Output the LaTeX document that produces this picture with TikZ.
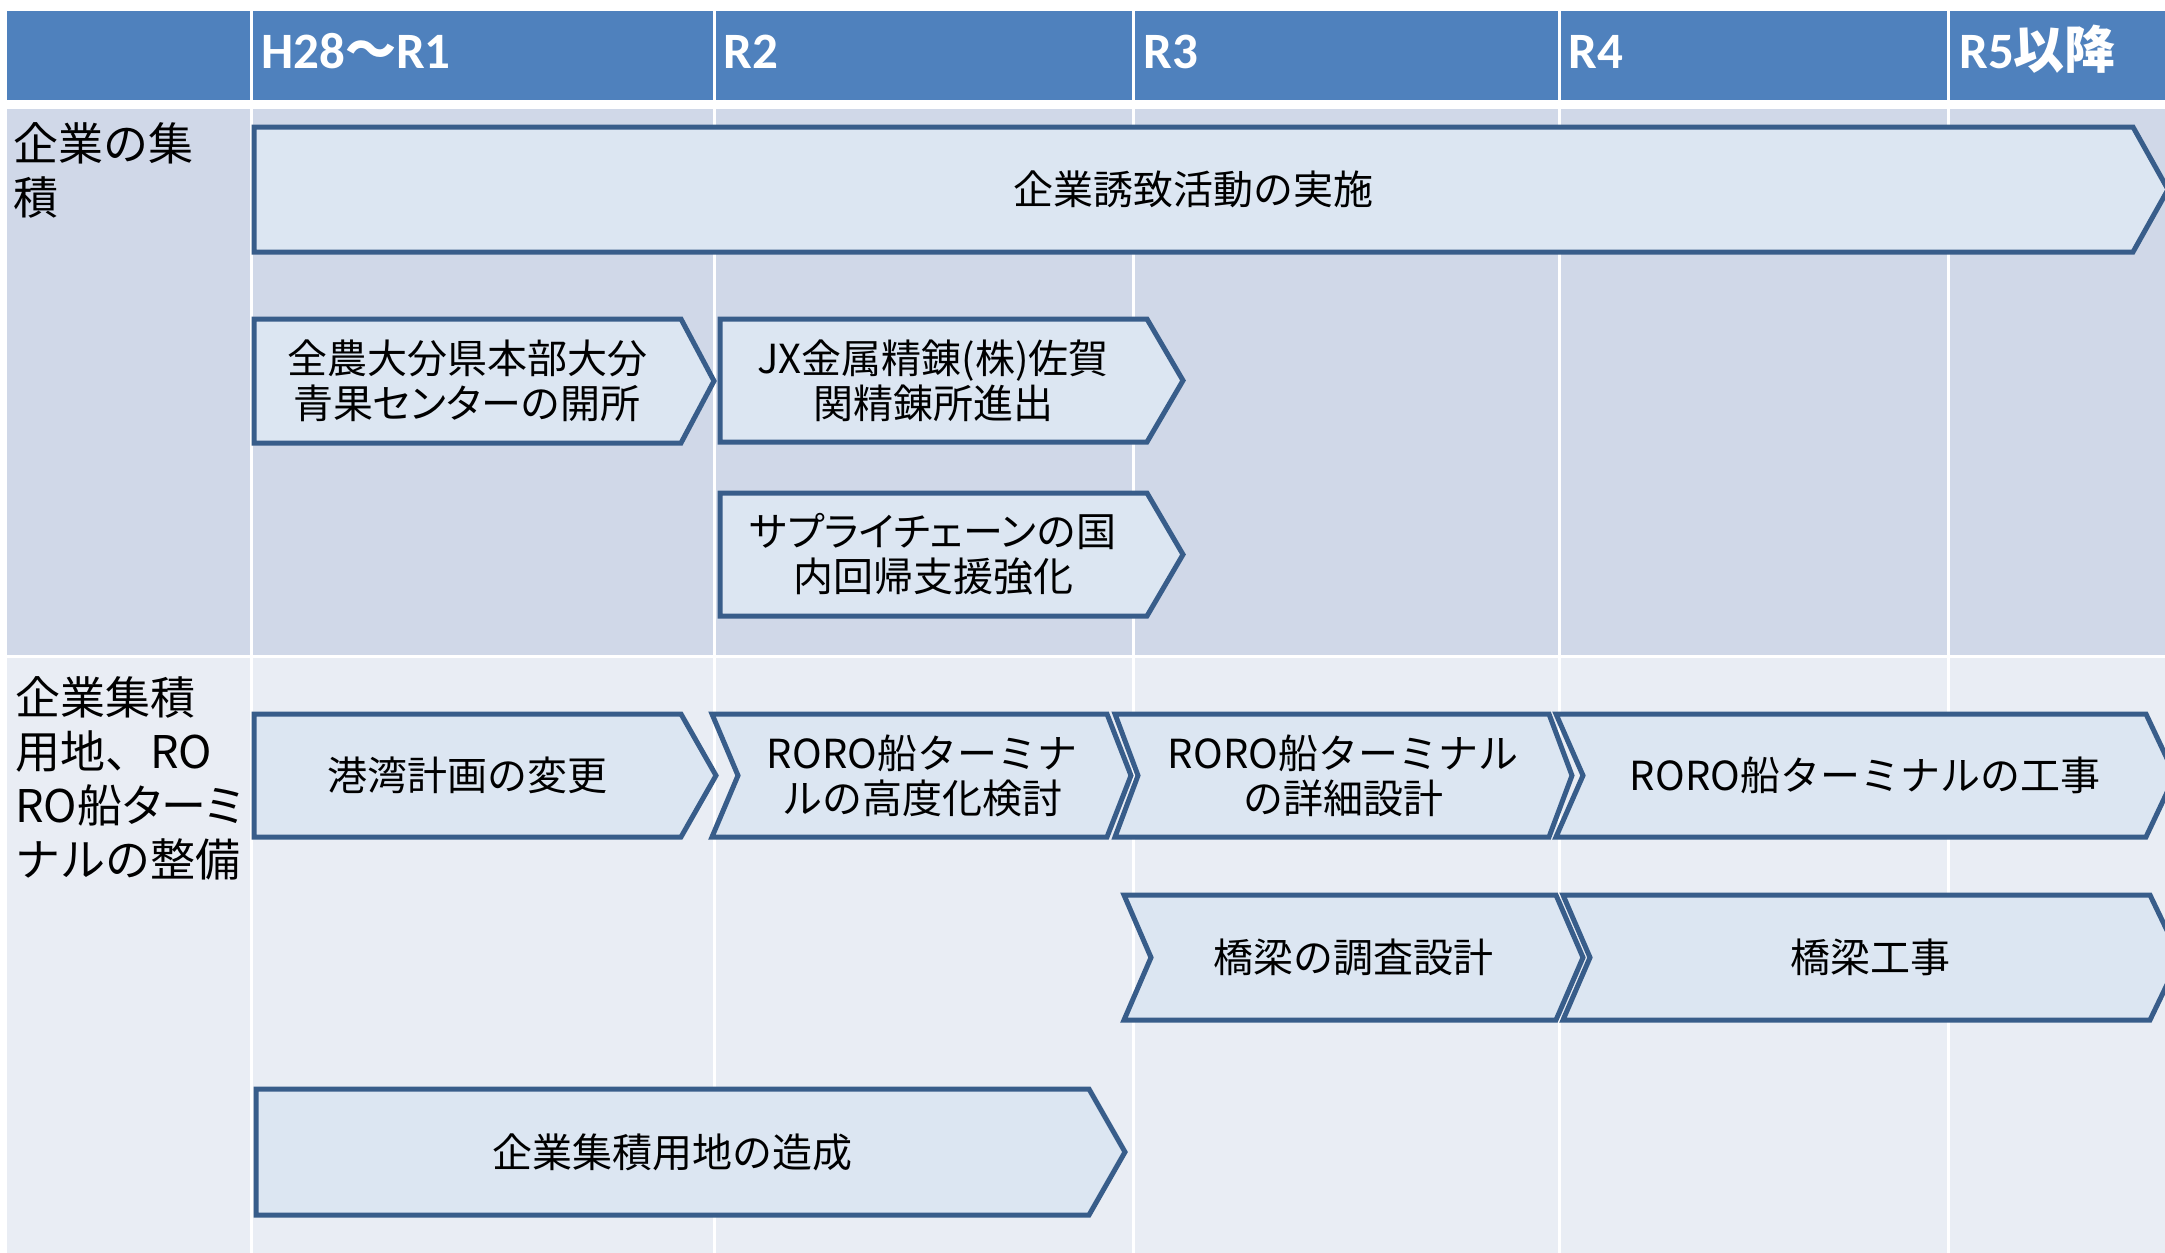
\documentclass[tikz,border=0pt]{standalone}
\usepackage{fontspec}
\setmainfont{Noto Sans CJK JP}
\newfontfamily\kanap{Noto Sans CJK JP}[RawFeature=+palt]
\newfontfamily\hdlat{Carlito}
\definecolor{hdr}{HTML}{4F81BD}
\definecolor{rowa}{HTML}{D0D8E8}
\definecolor{rowb}{HTML}{E9EDF4}
\definecolor{chfill}{HTML}{DCE6F2}
\definecolor{chline}{HTML}{385D8A}
\begin{document}
\begin{tikzpicture}[x=0.5pt,y=-0.5pt,
  chev/.style={draw=chline, fill=chfill, line width=2.5pt, line join=miter},
  lbl/.style={inner sep=0pt, align=center, font=\fontsize{20}{22.5}\selectfont},
  hd/.style={inner sep=0pt, anchor=base west, text=white, font=\fontsize{25.5}{30}\selectfont\bfseries},
  side/.style={inner sep=0pt, anchor=north west, align=left, font=\fontsize{22.5}{27}\selectfont},
  sep/.style={white, line width=1.5pt}]
\useasboundingbox (0,0) rectangle (2165,1253);
\clip (0,0) rectangle (2165,1253);
\fill[white] (0,0) rectangle (2165,1253);
% table cells
\fill[hdr] (7,11) rectangle (2165,100);
\fill[rowa] (7,109) rectangle (2165,655);
\fill[rowb] (7,658) rectangle (2165,1253);
\foreach \x in {251,714,1133,1559,1948} \draw[sep] (\x,11) -- (\x,1253);
% header
\node[hd] (h1) at (261,68) {{\hdlat H28}～{\hdlat R1}};
\node[hd] (h2) at (723,68) {{\hdlat R2}};
\node[hd] (h3) at (1143,68) {{\hdlat R3}};
\node[hd] (h4) at (1568,68) {{\hdlat R4}};
\node[hd] (h5) at (1959,68) {{\hdlat R5}以降};
% row labels
\node[side] (r1) at (13,122) {企業の集\\積};
\node[side] (r2) at (15,676) {企業集積\\用地、RO\\RO船{\kanap ターミ}\\ナルの整備};
% chevrons
\draw[chev] (254,127) -- (2133,127) -- (2168,189.5) -- (2133,252) -- (254,252) -- cycle;
\draw[chev] (254,319) -- (681,319) -- (714,381) -- (681,443) -- (254,443) -- cycle;
\draw[chev] (720,319) -- (1147,319) -- (1183,380.5) -- (1147,442) -- (720,442) -- cycle;
\draw[chev] (720,493) -- (1147,493) -- (1183,554.5) -- (1147,616) -- (720,616) -- cycle;
\draw[chev] (254,714) -- (681,714) -- (716,775.5) -- (681,837) -- (254,837) -- cycle;
\draw[chev] (712,714) -- (1107,714) -- (1131,775.5) -- (1107,837) -- (712,837) -- (738,775.5) -- cycle;
\draw[chev] (1115,714) -- (1549,714) -- (1572,775.5) -- (1549,837) -- (1115,837) -- (1138,775.5) -- cycle;
\draw[chev] (1556,714) -- (2146,714) -- (2175,775.5) -- (2146,837) -- (1556,837) -- (1583,775.5) -- cycle;
\draw[chev] (1124,895) -- (1556,895) -- (1583,957.5) -- (1556,1020) -- (1124,1020) -- (1151,957.5) -- cycle;
\draw[chev] (1563,895) -- (2150,895) -- (2180,957.5) -- (2150,1020) -- (1563,1020) -- (1590,957.5) -- cycle;
\draw[chev] (256,1089) -- (1089,1089) -- (1125,1152) -- (1089,1215) -- (256,1215) -- cycle;
% texts
\node[lbl] (t1) at (1193,189.5) {企業誘致活動の実施};
\node[lbl] (t2) at (467,381) {全農大分県本部大分\\青果{\kanap センター}の開所};
\node[lbl] (t3) at (933,380.5) {JX金属精錬(株)佐賀\\関精錬所進出};
\node[lbl] (t4) at (933,554.5) {{\kanap サプライチェーン}の国\\内回帰支援強化};
\node[lbl] (t5) at (467,775.5) {港湾計画の変更};
\node[lbl] (t6) at (922,775.5) {RORO船ターミナ\\ルの高度化検討};
\node[lbl] (t7) at (1343,775.5) {RORO船ターミナル\\の詳細設計};
\node[lbl] (t8) at (1865,775.5) {RORO船ターミナルの工事};
\node[lbl] (t9) at (1353,957.5) {橋梁の調査設計};
\node[lbl] (t10) at (1870,957.5) {橋梁工事};
\node[lbl] (t11) at (672,1152) {企業集積用地の造成};
\end{tikzpicture}
\end{document}
